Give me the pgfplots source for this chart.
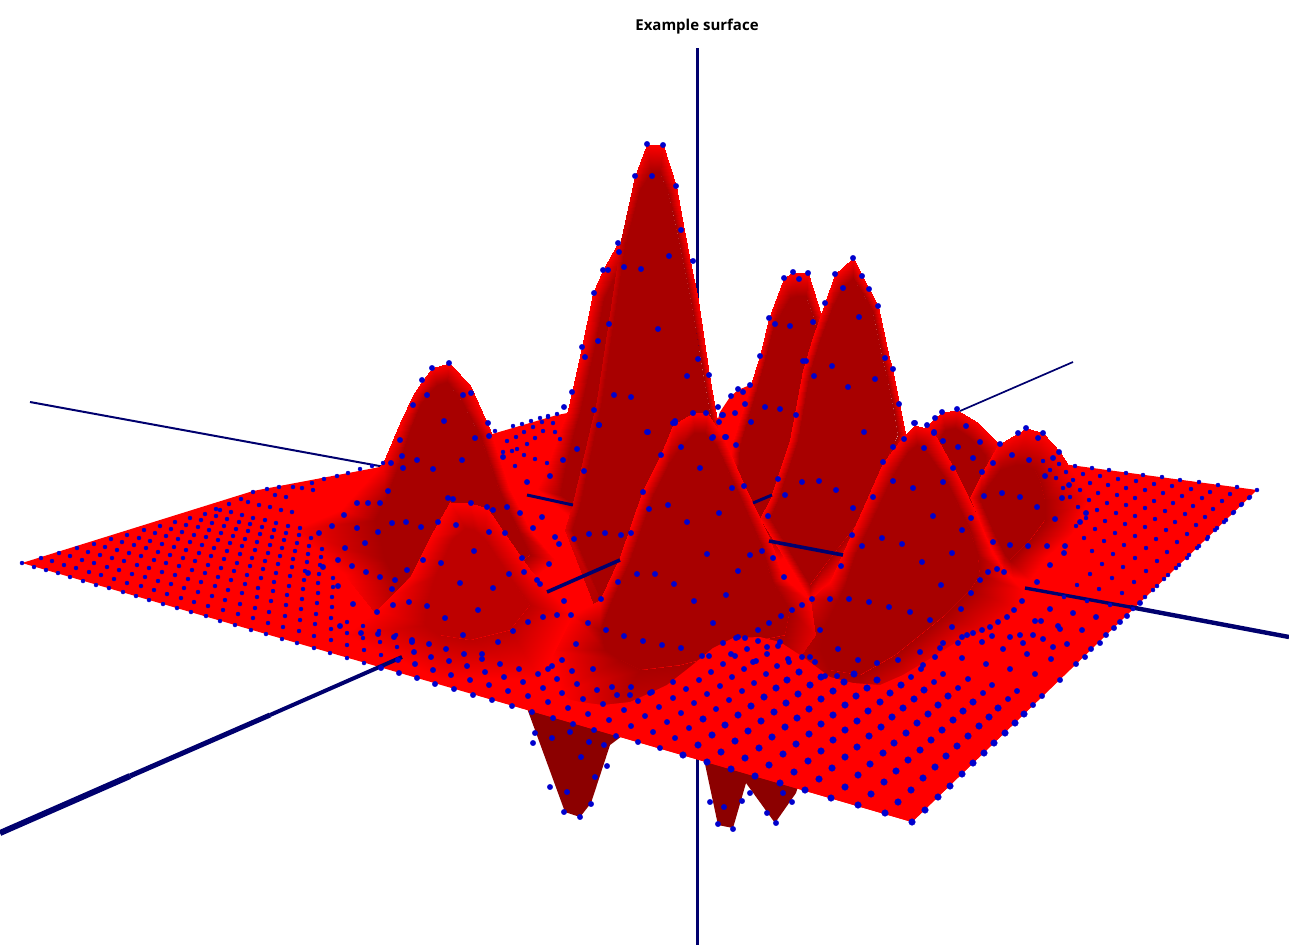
\documentclass[border=0pt]{standalone}
\usepackage{fontspec}
\setmainfont{Open Sans}
\usepackage{pgfplots}
\pgfplotsset{compat=1.18}
\definecolor{pd}{RGB}{168,0,0}
\definecolor{navyx}{RGB}{0,0,110}
\definecolor{dotb}{RGB}{0,0,205}
\pgfplotsset{colormap={rd}{rgb255(0)=(255,0,0); rgb255(1)=(168,0,0)}}
\pgfplotsset{ring/.style={surf,shader=interp,mesh/rows=2,point meta=\thisrow{m},forget plot}}
\pgfplotsset{dots/.style={only marks,mark=*,dotb,mark options={draw=none,fill=dotb}}}
\begin{document}
\begin{tikzpicture}
\path (0,0) rectangle (1289pt,945pt);
\begin{axis}[scale only axis,width=1289pt,height=945pt,xmin=0,xmax=1289,ymin=0,ymax=945,y dir=reverse,hide axis,clip=true,point meta min=0,point meta max=1,colormap name=rd]
\addplot[navyx,line width=3pt] coordinates {(697,48)(697,945)};
\addplot[navyx,line width=2pt] coordinates {(30,402)(385,467)};
\addplot[navyx,line width=1.7pt] coordinates {(960,411)(1073,362)};
\addplot[fill={rgb,255:red,140;green,0;blue,0},draw=none] coordinates {(524,700)(565,812)(580,817)(591,803)(610,745)(630,730)} --cycle;
\addplot[fill={rgb,255:red,140;green,0;blue,0},draw=none] coordinates {(702,750)(718,825)(733,828)(746,783)(750,760)} --cycle;
\addplot[fill={rgb,255:red,140;green,0;blue,0},draw=none] coordinates {(746,770)(746,783)(775,823)(796,793)(800,780)} --cycle;
\addplot[fill=red,draw=none] coordinates {(22,563)(253,491)(380,467)(557,415)(615,404)(1070,465)(1257,490)(912,822)} --cycle;
\addplot[fill=red,draw=none] coordinates {(712,440)(720,412)(730,397)(738,390)(750,385)(770,380)(760,450)} --cycle;
% shoulder
\addplot[fill=pd,draw=none] coordinates {(560,495)(566,465)(574,432)(580,412)(584,394)(594,350)(604,298)(612,282)(621,268)(630,280)(640,400)(630,510)(590,515)} --cycle;
\addplot[ring,mesh/cols=14] table[row sep=\\]{x y m\\537 489 0\\548 465 0\\560 430 0\\568 410 0\\572 392 0\\582 347 0\\593 293 0\\603 270 0\\618 243 0\\632 262 0\\650 400 0\\640 520 0\\590 535 0\\537 489 0\\
560 495 1\\566 465 1\\574 432 1\\580 412 1\\584 394 1\\594 350 1\\604 298 1\\612 282 1\\621 268 1\\630 280 1\\640 400 1\\630 510 1\\590 515 1\\560 495 1\\};
% P2
\addplot[fill=pd,draw=none] coordinates {(735,510)(740,445)(755,395)(765,360)(774,325)(790,298)(797,296)(806,296)(815,320)(828,400)(825,510)(780,540)} --cycle;
\addplot[ring,mesh/cols=13] table[row sep=\\]{x y m\\720 520 0\\733 440 0\\750 387 0\\760 356 0\\769 318 0\\784 278 0\\793 272 0\\808 273 0\\821 315 0\\835 400 0\\840 520 0\\780 560 0\\720 520 0\\
735 510 1\\740 445 1\\755 395 1\\765 360 1\\774 325 1\\790 298 1\\797 296 1\\806 296 1\\815 320 1\\828 400 1\\825 510 1\\780 540 1\\735 510 1\\};
% main
\addplot[fill=pd,draw=none] coordinates {(572,530)(580,505)(602,400)(625,245)(640,190)(651,172)(660,172)(669,195)(678,235)(684,265)(692,305)(704,378)(712,422)(727,515)(695,610)(605,610)} --cycle;
\addplot[ring,mesh/cols=17] table[row sep=\\]{x y m\\565 530 0.4\\573 503 0.4\\597 400 0.6\\621 240 0.6\\635 176 0.2\\647 144 0\\663 145 0\\676 186 0\\684 230 0\\690 261 0\\698 300 0\\709 375 0\\717 420 0\\735 520 0\\700 620 1\\600 620 1\\565 530 0.4\\
572 530 1\\580 505 1\\602 400 1\\625 245 1\\640 190 1\\651 172 1\\660 172 1\\669 195 1\\678 235 1\\684 265 1\\692 305 1\\704 378 1\\712 422 1\\727 515 1\\695 610 1\\605 610 1\\572 530 1\\};
% P3
\addplot[fill=pd,draw=none] coordinates {(770,518)(778,500)(798,440)(810,372)(820,340)(832,308)(842,288)(853,278)(864,295)(873,312)(883,360)(886,372)(893,405)(898,435)(860,520)(825,565)(810,585)} --cycle;
\addplot[ring,mesh/cols=18] table[row sep=\\]{x y m\\760 518 0\\770 500 0\\790 440 0\\803 370 0\\813 337 0\\825 303 0\\835 274 0\\853 258 0\\869 289 0\\878 306 0\\889 358 0\\892 368 0\\899 403 0\\905 433 0\\870 530 0\\830 582 0\\810 600 0\\760 518 0\\
770 518 1\\778 500 1\\798 440 1\\810 372 1\\820 340 1\\832 308 1\\842 288 1\\853 278 1\\864 295 1\\873 312 1\\883 360 1\\886 372 1\\893 405 1\\898 435 1\\860 520 1\\825 565 1\\810 585 1\\770 518 1\\};
% P5
\addplot[fill=pd,draw=none] coordinates {(935,445)(945,430)(955,428)(970,438)(985,455)(985,475)(975,510)(960,500)(925,470)} --cycle;
\addplot[ring,mesh/cols=10] table[row sep=\\]{x y m\\925 427 0\\942 412 0\\957 410 0\\977 422 0\\998 443 0\\1005 470 0\\990 530 0\\975 520 0\\905 470 0\\925 427 0\\
935 445 1\\945 430 1\\955 428 1\\970 438 1\\985 455 1\\985 475 1\\975 510 1\\960 500 1\\925 470 1\\935 445 1\\};
% P7
\addplot[fill=pd,draw=none] coordinates {(985,490)(1000,470)(1015,465)(1025,465)(1035,470)(1040,480)(1045,500)(1045,520)(1030,540)(1015,555)(1010,560)(1005,555)(995,535)(980,500)(980,495)} --cycle;
\addplot[ring,mesh/cols=16] table[row sep=\\]{x y m\\982 473 0\\998 445 0\\1018 433 0\\1027 428 0\\1043 433 0\\1060 452 0\\1068 465 0\\1090 497 0\\1073 533 0\\1047 557 0\\1030 580 0\\1013 578 0\\1003 570 0\\987 540 0\\970 497 0\\982 473 0\\
985 490 1\\1000 470 1\\1015 465 1\\1025 465 1\\1035 470 1\\1040 480 1\\1045 500 1\\1045 520 1\\1030 540 1\\1015 555 1\\1010 560 1\\1005 555 1\\995 535 1\\980 500 1\\980 495 1\\985 490 1\\};
% P6
\addplot[fill=pd,draw=none] coordinates {(845,585)(855,555)(872,520)(893,475)(908,452)(917,445)(925,450)(945,478)(958,505)(970,530)(978,555)(980,575)(970,590)(960,600)(945,615)(920,635)(895,655)(860,675)(830,670)(820,650)(825,625)(838,600)} --cycle;
\addplot[ring,mesh/cols=23] table[row sep=\\]{x y m\\830 582 0\\843 553 0\\860 515 0\\883 463 0\\903 437 0\\915 425 0\\932 430 0\\953 467 0\\968 497 0\\980 523 0\\993 555 0\\1010 577 0\\1023 590 0\\1023 610 0\\993 635 0\\960 650 0\\927 675 0\\903 700 0\\860 710 0.5\\810 690 0.6\\790 640 0.8\\810 600 0.4\\830 582 0\\
845 585 1\\855 555 1\\872 520 1\\893 475 1\\908 452 1\\917 445 1\\925 450 1\\945 478 1\\958 505 1\\970 530 1\\978 555 1\\980 575 1\\970 590 1\\960 600 1\\945 615 1\\920 635 1\\895 655 1\\860 675 1\\830 670 1\\820 650 1\\825 625 1\\838 600 1\\845 585 1\\};
% P4
\addplot[fill=pd,draw=none] coordinates {(375,520)(385,500)(397,470)(410,430)(420,405)(430,392)(437,385)(447,382)(460,398)(480,435)(500,492)(518,530)(530,555)(510,570)(440,540)(400,590)(385,560)} --cycle;
\addplot[ring,mesh/cols=18] table[row sep=\\]{x y m\\293 530 0\\340 510 0\\383 463 0\\400 423 0\\413 395 0\\423 380 0\\432 368 0\\449 363 0\\470 385 0\\490 430 0\\510 490 0\\530 530 0\\555 560 0\\520 590 0\\440 560 1\\377 615 0.4\\345 575 0\\293 530 0\\
375 520 1\\385 500 1\\397 470 1\\410 430 1\\420 405 1\\430 392 1\\437 385 1\\447 382 1\\460 398 1\\480 435 1\\500 492 1\\518 530 1\\530 555 1\\510 570 1\\440 540 1\\400 590 1\\385 560 1\\375 520 1\\};
% centre
\addplot[fill=pd,draw=none] coordinates {(600,630)(612,600)(630,560)(653,495)(668,465)(682,445)(694,433)(705,433)(716,445)(736,488)(761,545)(773,583)(790,610)(785,635)(760,640)(720,655)(680,665)(640,670)(620,660)(605,650)} --cycle;
\addplot[ring,mesh/cols=21] table[row sep=\\]{x y m\\572 615 0\\600 600 0\\620 557 0\\643 490 0\\660 457 0\\673 425 0\\693 413 0\\707 413 0\\723 437 0\\743 483 0\\770 540 0\\783 577 0\\810 600 0\\815 635 0.3\\790 670 0.6\\740 700 0.6\\680 720 0.6\\600 730 0.5\\560 690 0\\550 650 0\\572 615 0\\
600 630 1\\612 600 1\\630 560 1\\653 495 1\\668 465 1\\682 445 1\\694 433 1\\705 433 1\\716 445 1\\736 488 1\\761 545 1\\773 583 1\\790 610 1\\785 635 1\\760 640 1\\720 655 1\\680 665 1\\640 670 1\\620 660 1\\605 650 1\\600 630 1\\};
% P8
\addplot[fill={rgb,255:red,190;green,0;blue,0},draw=none] coordinates {(425,625)(428,600)(436,575)(452,540)(465,528)(474,530)(484,538)(497,558)(515,585)(530,605)(510,630)(470,640)(440,635)} --cycle;
\addplot[ring,mesh/cols=14] table[row sep=\\]{x y m\\345 635 0\\377 610 0\\390 597 0\\410 577 0\\430 537 0\\450 502 0\\470 503 0\\487 508 0\\507 537 0\\530 570 0\\572 615 0\\540 680 0\\440 680 0\\345 635 0\\
425 625 0.75\\428 600 0.75\\436 575 0.75\\452 540 0.75\\465 528 0.75\\474 530 0.75\\484 538 0.75\\497 558 0.75\\515 585 0.75\\530 605 0.75\\510 630 0.75\\470 640 0.75\\440 635 0.75\\425 625 0.75\\};
% foreground plane
\addplot[fill=red,draw=none] coordinates {(480,696)(550,695)(580,702)(603,705)(630,702)(650,693)(667,685)(690,667)(713,648)(733,638)(760,637)(780,642)(803,657)(830,677)(853,683)(880,685)(903,675)(923,663)(960,640)(993,627)(1023,605)(1100,640)(912,822)} --cycle;
% axis parts in front
\addplot[navyx,line width=3pt] coordinates {(527,495)(573,505)};
\addplot[navyx,line width=3pt] coordinates {(753,503)(772,495)};
\addplot[navyx,line width=3.6pt] coordinates {(769,541)(843,555)};
\addplot[navyx,line width=3.6pt] coordinates {(547,592)(620,560)};
\addplot[navyx,line width=3.4pt] coordinates {(1025,588)(1130,607)};
\addplot[navyx,line width=4.4pt] coordinates {(1130,607)(1289,637)};
\addplot[navyx,line width=4pt] coordinates {(270,715)(402,657)};
\addplot[navyx,line width=5pt] coordinates {(130,776)(270,715)};
\addplot[navyx,line width=6pt] coordinates {(0,833)(130,776)};
% far dots
\addplot[dots,mark size=2pt] table[row sep=\\]{x y\\
22 563\\34 567\\46 570\\58 573\\70 577\\83 581\\96 585\\109 588\\123 592\\136 596\\149 600\\163 604\\177 608\\191 612\\206 616\\220 621\\235 625\\251 630\\266 634\\282 639\\297 643\\314 648\\330 653\\347 658\\364 663\\
41 558\\52 561\\64 565\\76 568\\89 572\\101 575\\114 579\\127 583\\141 586\\154 590\\167 594\\181 598\\194 602\\208 606\\223 610\\238 614\\253 618\\268 623\\283 627\\299 631\\314 636\\331 640\\347 645\\364 650\\381 655\\
59 553\\70 556\\82 560\\94 563\\107 567\\119 570\\132 574\\145 577\\158 581\\171 584\\184 588\\198 592\\212 596\\225 600\\240 604\\255 608\\269 612\\285 616\\300 620\\315 624\\331 629\\347 633\\363 638\\380 642\\397 647\\
77 548\\88 552\\100 555\\112 558\\124 561\\137 565\\149 568\\162 572\\175 575\\188 579\\201 582\\215 586\\228 590\\242 593\\257 597\\271 601\\286 605\\301 609\\316 614\\331 618\\347 622\\363 626\\379 631\\396 635\\
94 544\\105 547\\117 550\\129 553\\141 556\\154 560\\166 563\\179 566\\192 570\\205 573\\218 577\\231 580\\245 584\\258 588\\273 591\\287 595\\302 599\\317 603\\332 607\\
111 539\\122 542\\134 545\\146 548\\158 552\\170 555\\183 558\\195 561\\208 565\\221 568\\234 571\\247 575\\261 578\\274 582\\289 586\\303 589\\318 593\\332 597\\
127 535\\139 538\\150 541\\162 544\\174 547\\186 550\\199 553\\211 556\\224 559\\237 563\\250 566\\263 569\\276 573\\290 576\\304 580\\318 583\\333 587\\
144 530\\155 533\\166 536\\178 539\\190 542\\202 545\\214 548\\227 551\\240 554\\252 558\\265 561\\278 564\\292 567\\305 571\\319 574\\333 578\\
160 526\\171 529\\182 532\\194 535\\206 537\\218 540\\230 543\\242 546\\255 550\\268 553\\280 556\\293 559\\307 562\\320 565\\
175 522\\186 525\\198 527\\209 530\\221 533\\233 536\\245 539\\257 542\\270 545\\282 548\\295 551\\308 554\\321 557\\
190 518\\201 520\\212 523\\224 526\\236 529\\248 531\\260 534\\272 537\\284 540\\297 543\\309 546\\322 549\\
205 514\\216 516\\227 519\\239 522\\250 524\\262 527\\274 530\\286 533\\299 535\\311 538\\
220 510\\231 512\\242 515\\253 518\\265 520\\276 523\\288 526\\300 528\\
248 502\\259 505\\270 507\\281 510\\292 512\\275 495\\286 497\\302 488\\313 490\\
216 509\\229 504\\241 499\\253 492\\267 489\\279 487\\293 487\\312 483\\324 479\\337 476\\348 473\\360 469\\372 466\\383 463\\
1102 564\\1123 567\\1146 571\\1168 575\\1092 551\\1113 554\\1135 558\\1157 561\\1179 565\\1084 538\\1104 541\\1124 545\\1146 548\\1167 552\\1189 555\\
1076 526\\1095 529\\1115 533\\1135 536\\1156 539\\1177 542\\1199 546\\1086 518\\1105 521\\1125 524\\1145 527\\1166 530\\1187 534\\1208 537\\
1078 507\\1097 510\\1116 513\\1135 516\\1155 519\\1175 522\\1196 525\\1217 528\\1070 497\\1089 500\\1107 503\\1126 505\\1145 508\\1165 511\\1185 514\\1205 517\\1226 520\\
1063 488\\1080 490\\1098 493\\1117 495\\1135 498\\1154 501\\1173 503\\1193 506\\1213 509\\1234 512\\1056 478\\1073 480\\1090 483\\1108 485\\1126 488\\1145 490\\1163 493\\1182 496\\1202 498\\1222 501\\1242 504\\
1050 470\\1066 472\\1083 474\\1100 476\\1118 479\\1136 481\\1154 484\\1172 486\\1191 489\\1210 492\\1230 494\\1250 497\\1043 461\\1059 464\\1075 466\\1092 468\\1109 470\\1126 473\\1143 475\\1162 477\\1180 480\\1199 482\\1218 485\\1237 487\\1257 490\\
1077 585\\1099 589\\1122 593\\1145 597\\1090 574\\1112 578\\1134 582\\1157 586\\1064 597\\1087 601\\1110 605\\1133 609\\
1153 590\\1164 579\\1176 568\\1187 558\\1197 548\\1207 539\\1215 530\\1224 522\\1233 513\\1241 505\\1249 498\\
557 414\\548 417\\542 422\\555 432\\540 418\\548 416\\531 421\\522 424\\513 426\\495 431\\553 423\\533 427\\524 432\\516 437\\507 441\\543 431\\535 438\\527 444\\517 449\\512 451\\524 455\\560 439\\503 452\\535 459\\547 463\\515 466\\
};
% mid dots
\addplot[dots,mark size=2.7pt] table[row sep=\\]{x y\\
381 668\\399 673\\417 678\\435 684\\454 689\\473 695\\492 700\\512 706\\532 712\\553 718\\573 724\\594 730\\616 736\\638 742\\660 748\\
398 660\\415 664\\433 670\\451 675\\470 680\\489 685\\508 691\\528 696\\548 702\\568 708\\588 714\\609 720\\631 726\\653 732\\675 738\\
414 652\\431 657\\449 661\\467 666\\485 672\\504 677\\523 682\\543 688\\562 693\\583 699\\603 704\\624 710\\645 716\\667 722\\689 728\\
412 640\\429 644\\446 649\\464 654\\482 659\\500 664\\519 669\\538 674\\557 679\\577 684\\597 690\\617 695\\638 701\\659 707\\681 713\\
552 666\\572 671\\631 687\\652 692\\673 698\\694 703\\716 709\\686 689\\707 694\\729 700\\699 680\\720 686\\742 691\\711 672\\732 677\\754 683\\723 664\\744 669\\766 674\\735 656\\756 661\\777 666\\747 649\\767 654\\788 659\\738 637\\758 641\\778 646\\
911 677\\934 682\\958 688\\983 693\\1008 699\\1033 705\\921 669\\943 674\\968 679\\992 685\\1017 691\\1042 696\\962 658\\986 664\\1010 669\\1035 674\\1060 680\\1003 649\\1027 654\\1051 659\\1076 664\\1020 635\\1043 639\\1067 644\\1091 649\\1035 621\\1058 626\\1082 630\\1106 635\\1050 609\\1073 613\\1096 617\\1120 622\\
1085 657\\1100 643\\1114 628\\1127 616\\1140 603\\
647 144\\663 145\\635 176\\652 176\\676 186\\681 230\\618 243\\619 252\\693 261\\669 256\\624 267\\641 269\\603 270\\608 270\\594 293\\609 324\\658 329\\598 341\\582 347\\585 357\\698 359\\687 376\\709 375\\572 392\\614 395\\631 397\\594 410\\599 425\\648 432\\673 423\\675 421\\693 413\\706 413\\712 438\\726 437\\719 422\\564 407\\
784 278\\793 272\\808 273\\799 279\\769 318\\775 324\\790 326\\813 322\\760 356\\803 361\\806 361\\832 366\\814 376\\750 385\\738 389\\743 392\\731 396\\718 407\\723 415\\735 413\\745 404\\765 407\\780 409\\796 415\\751 422\\
853 258\\835 274\\862 276\\843 288\\869 289\\825 303\\878 306\\859 317\\885 358\\893 369\\875 379\\848 387\\899 404\\864 432\\914 423\\927 425\\935 418\\934 433\\
444 421\\475 438\\488 423\\489 436\\462 460\\433 469\\503 457\\448 498\\453 499\\471 503\\487 507\\493 510\\507 507\\520 513\\542 517\\533 528\\438 522\\456 525\\489 532\\505 533\\555 537\\559 544\\574 539\\589 534\\605 533\\621 535\\631 533\\549 564\\522 558\\474 551\\441 563\\509 574\\524 572\\460 583\\537 580\\540 584\\493 588\\564 601\\601 599\\478 610\\445 618\\557 615\\543 617\\571 615\\528 622\\588 623\\513 631\\606 630\\624 636\\643 641\\662 645\\681 648\\463 635\\498 642\\576 644\\482 654\\562 660\\548 669\\593 669\\612 687\\630 695\\650 693\\673 682\\
675 423\\713 437\\681 447\\661 455\\725 437\\700 468\\643 492\\732 488\\744 486\\649 509\\668 505\\719 513\\687 522\\707 554\\750 555\\762 551\\773 558\\637 574\\655 574\\738 571\\618 582\\674 584\\726 595\\694 601\\812 599\\830 599\\849 599\\792 610\\802 605\\781 616\\769 623\\713 623\\758 630\\820 630\\838 649\\858 660\\745 638\\736 638\\723 643\\767 647\\780 642\\702 656\\709 656\\731 654\\753 662\\789 662\\802 657\\810 657\\815 662\\825 676\\837 676\\
778 479\\802 482\\819 481\\836 490\\785 495\\853 508\\768 516\\852 535\\841 566\\784 577\\722 415\\736 445\\599 425\\647 432\\577 449\\563 460\\584 471\\550 476\\527 482\\
402 456\\417 460\\403 468\\391 463\\388 491\\380 503\\368 503\\357 503\\344 515\\332 526\\357 528\\378 532\\392 523\\406 522\\421 527\\345 548\\365 543\\319 533\\338 560\\352 566\\323 567\\366 572\\380 577\\407 570\\423 560\\308 573\\338 586\\395 580\\392 589\\353 604\\377 612\\393 605\\409 602\\427 606\\340 626\\361 633\\378 634\\394 637\\412 642\\449 363\\432 368\\422 380\\471 393\\413 405\\427 395\\463 395\\400 440\\
915 423\\904 439\\942 412\\957 409\\934 432\\966 426\\943 441\\924 448\\893 447\\980 442\\958 447\\883 462\\973 458\\953 468\\993 463\\982 472\\1000 444\\1018 433\\1026 428\\1038 438\\1043 433\\1059 452\\1012 455\\1029 460\\1053 458\\1045 476\\1069 485\\893 481\\943 482\\913 488\\873 497\\984 496\\1002 493\\1020 497\\1062 498\\1037 507\\933 516\\971 518\\1055 519\\962 530\\1080 522\\1086 513\\882 538\\862 546\\902 544\\993 542\\1010 545\\1028 546\\1047 546\\1065 546\\952 553\\922 562\\1064 553\\1050 565\\988 572\\997 569\\1004 572\\980 580\\1037 582\\941 585\\971 593\\869 602\\889 607\\910 612\\1022 601\\1014 610\\961 609\\930 620\\1007 617\\998 622\\952 627\\990 627\\982 630\\973 633\\967 635\\962 637\\920 652\\898 660\\877 663\\992 636\\1010 637\\1023 643\\1033 635\\1041 621\\1060 629\\982 642\\958 643\\943 643\\940 648\\935 657\\923 665\\1053 647\\
535 733\\552 738\\533 743\\570 732\\589 742\\604 745\\581 757\\607 766\\595 777\\550 787\\567 792\\564 812\\580 817\\591 804\\710 802\\724 807\\742 801\\718 824\\733 829\\750 793\\783 793\\767 813\\792 802\\776 823\\
};
% near dots
\addplot[dots,mark size=3.3pt] table[row sep=\\]{x y\\
683 755\\707 762\\731 769\\755 776\\780 783\\805 790\\831 798\\858 805\\885 813\\912 822\\
698 745\\721 752\\745 758\\769 765\\794 772\\819 779\\845 787\\871 794\\898 802\\925 810\\
712 735\\735 741\\759 748\\783 754\\808 761\\832 768\\858 775\\884 782\\911 790\\938 797\\
703 719\\725 725\\748 731\\772 737\\796 744\\821 751\\845 757\\870 764\\896 771\\923 778\\950 786\\
738 715\\761 721\\785 727\\809 734\\833 740\\857 747\\883 753\\908 760\\935 767\\962 774\\
751 706\\774 712\\797 718\\821 724\\845 730\\869 736\\894 743\\920 750\\946 756\\973 763\\
764 697\\786 703\\809 709\\833 715\\857 721\\881 727\\906 733\\931 740\\957 746\\984 753\\
776 688\\798 694\\821 699\\845 705\\868 711\\892 717\\917 723\\942 730\\968 736\\994 743\\
787 680\\810 685\\833 691\\856 696\\880 702\\903 708\\928 714\\953 720\\979 726\\1005 733\\
799 672\\821 677\\844 682\\867 688\\890 693\\914 699\\938 705\\963 711\\989 717\\1015 723\\
854 674\\877 680\\901 685\\924 690\\948 696\\973 702\\998 708\\1024 714\\
};
\node[font=\fontsize{15}{17}\selectfont\bfseries] at (axis cs:697,26.5) {Example surface};
\end{axis}
\end{tikzpicture}
\end{document}
